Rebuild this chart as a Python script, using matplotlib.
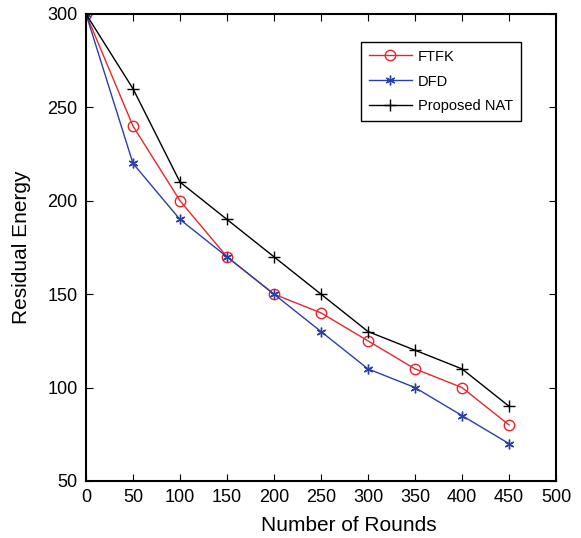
import matplotlib
matplotlib.use("Agg")
import matplotlib.pyplot as plt

rounds = [0, 50, 100, 150, 200, 250, 300, 350, 400, 450]
ftfk = [300, 240, 200, 170, 150, 140, 125, 110, 100, 80]
dfd = [300, 220, 190, 170, 150, 130, 110, 100, 85, 70]
nat = [300, 260, 210, 190, 170, 150, 130, 120, 110, 90]

plt.rcParams['font.family'] = ['Liberation Sans', 'DejaVu Sans']

fig = plt.figure(figsize=(5.81, 5.38), dpi=100)
ax = fig.add_axes([0.148, 0.106, 0.809, 0.868])

ax.plot(rounds, ftfk, color='#e8262a', lw=1, marker='o', ms=7.5, mfc='none', mew=1, label='FTFK')
ax.plot(rounds, dfd, color='#2b3fa8', lw=1, marker=(6, 2, 0), ms=7, mew=1, label='DFD')
ax.plot(rounds, nat, color='black', lw=1, marker='+', ms=9, mew=1, label='Proposed NAT')

ax.set_xlim(0, 500)
ax.set_ylim(50, 300)
ax.set_xticks(range(0, 501, 50))
ax.set_yticks(range(50, 301, 50))
ax.tick_params(direction='in', top=True, right=True, labelsize=13, length=5, pad=6)
for s in ax.spines.values():
    s.set_linewidth(1.5)
ax.set_xlabel('Number of Rounds', fontsize=15)
ax.xaxis.set_label_coords(0.56, -0.075)
ax.set_ylabel('Residual Energy', fontsize=15, labelpad=12)

leg = ax.legend(loc='upper right', bbox_to_anchor=(0.94, 0.955), fontsize=10.5, fancybox=False,
                edgecolor='black', framealpha=1, handlelength=3, borderpad=0.5, labelspacing=0.75,
                handletextpad=0.4)
leg.get_frame().set_linewidth(1)

fig.savefig('out.png', dpi=100)
